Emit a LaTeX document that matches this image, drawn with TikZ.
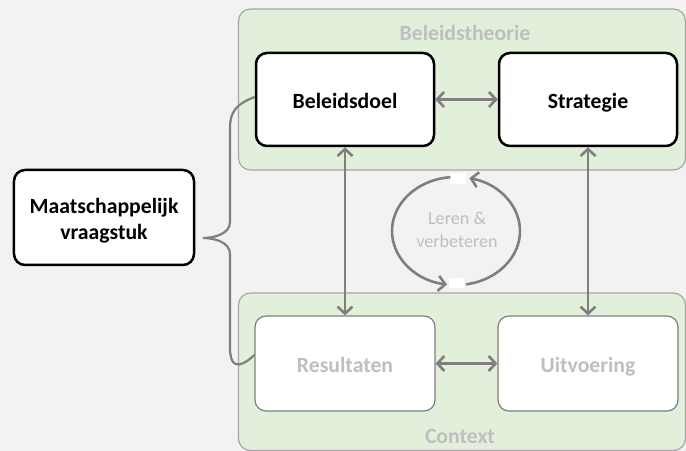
\documentclass[tikz,border=0pt]{standalone}
\usepackage{fontspec}
\setmainfont{Carlito}
\usetikzlibrary{arrows.meta}
\definecolor{bg}{HTML}{F2F2F2}
\definecolor{panelfill}{HTML}{E2EFDA}
\definecolor{panelline}{HTML}{A6A6A6}
\definecolor{conn}{HTML}{7F7F7F}
\definecolor{faint}{HTML}{BFBFBF}
\tikzset{
  panel/.style={draw=panelline, line width=1.2bp, fill=panelfill, rounded corners=12bp},
  keybox/.style={draw=black, line width=2.5bp, fill=white, rounded corners=11bp,
    minimum width=178bp, minimum height=93bp, align=center,
    text height=19bp, text depth=0bp,
    font=\fontsize{21.8}{26.5}\selectfont\bfseries, text=black},
  softbox/.style={draw=conn, line width=1.2bp, fill=white, rounded corners=11bp,
    minimum width=180bp, minimum height=95bp, align=center,
    text height=17bp, text depth=0bp,
    font=\fontsize{21.8}{26.5}\selectfont\bfseries, text=faint},
  paneltitle/.style={font=\fontsize{21.8}{26}\selectfont\bfseries, text=faint},
  link/.style={draw=conn, line width=2.6bp, {Straight Barb[length=7bp,width=15bp]}-{Straight Barb[length=7bp,width=15bp]}},
  cyc/.style={draw=conn, line width=2.6bp, -{Straight Barb[length=7bp,width=15bp]}},
  bracel/.style={draw=conn, line width=2.2bp},
  gapbox/.style={fill=white, draw=none}
}
\begin{document}
\begin{tikzpicture}[x=1bp,y=-1bp]
\useasboundingbox (0,0) rectangle (686,451);
\fill[bg] (0,0) rectangle (686,451);
\begin{scope}
\clip (0,0) rectangle (686,451);
\draw[panel] (238.5,9) rectangle (685.5,170);
\draw[panel] (238.5,293) rectangle (685.5,450.5);
\end{scope}
\node[paneltitle] (tt) at (465,33) {Beleidstheorie};
\node[paneltitle] (ct) at (460,436) {Context};

\node[keybox] (doel) at (345,99.5) {Beleidsdoel};
\node[keybox] (strat) at (588,99.5) {Strategie};
\node[softbox] (res) at (345,363.5) {Resultaten};
\node[softbox] (uitv) at (588,363.5) {Uitvoering};
\node[keybox, minimum width=180bp, minimum height=95bp, text height=45bp] (maat) at (104,217.5) {Maatschappelijk\\vraagstuk};

\draw[link] (doel.east) -- (strat.west);
\draw[link] (res.east) -- (uitv.west);
\draw[link] (doel.south) -- (res.north);
\draw[link] (strat.south) -- (uitv.north);

\coordinate (tip) at (203,238);
\draw[bracel] ([yshift=2.5bp]doel.west) .. controls (236,104) and (230,112) .. (230,128)
  -- (230,222) .. controls (230,234) and (214,238) .. (tip)
  .. controls (214,238) and (230,242) .. (230,254)
  -- (230,348) .. controls (230,364) and (236,372) .. ([yshift=8.5bp]res.west);

\coordinate (cc) at (456,231);
\node[gapbox, minimum width=16bp, minimum height=11bp, inner sep=0pt] (gtop) at (458,178.5) {};
\node[gapbox, minimum width=16bp, minimum height=10bp, inner sep=0pt] (gbot) at (457,283) {};
\draw[cyc] (cc) ++(81:64 and 54) arc[start angle=81, end angle=-78, x radius=64, y radius=54];
\draw[cyc] (cc) ++(265:64 and 54) arc[start angle=265, end angle=98, x radius=64, y radius=54];
\node[align=center, font=\fontsize{18.2}{23}\selectfont, text=faint] (leren) at (457,230) {Leren \&\\verbeteren};
\end{tikzpicture}
\end{document}
